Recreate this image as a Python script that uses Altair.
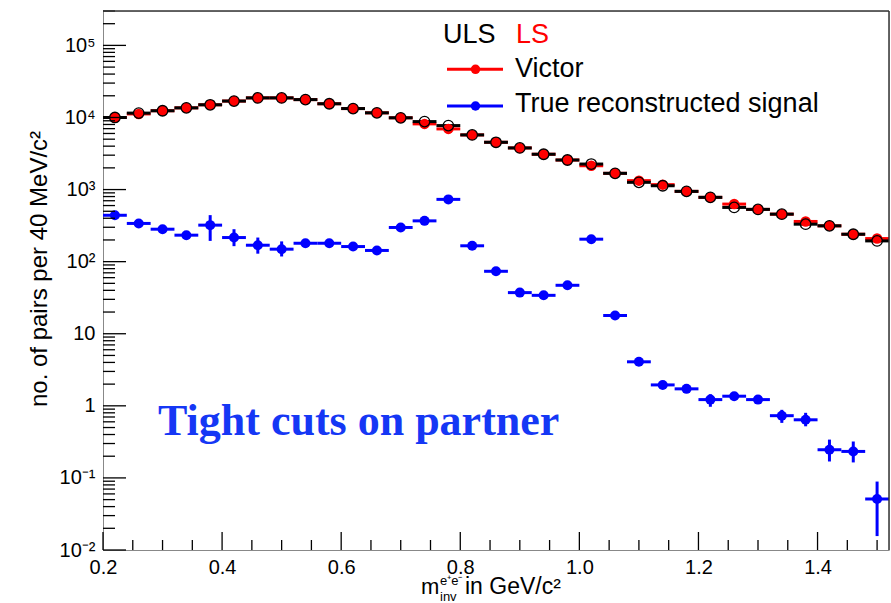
import altair as alt
import pandas as pd

# 40 MeV/c^2 bins from 0.2 to 1.52 GeV/c^2 (bin centres)
mass = [0.22, 0.26, 0.30, 0.34, 0.38, 0.42, 0.46, 0.50, 0.54, 0.58, 0.62,
        0.66, 0.70, 0.74, 0.78, 0.82, 0.86, 0.90, 0.94, 0.98, 1.02, 1.06,
        1.10, 1.14, 1.18, 1.22, 1.26, 1.30, 1.34, 1.38, 1.42, 1.46, 1.50]
bin_half = 0.02

# unlike-sign pairs (open black circles)
uls = [1.00e4, 1.15e4, 1.24e4, 1.36e4, 1.50e4, 1.69e4, 1.87e4, 1.87e4,
       1.77e4, 1.55e4, 1.33e4, 1.16e4, 9.9e3, 8.77e3, 7.72e3, 5.73e3,
       4.53e3, 3.78e3, 3.09e3, 2.57e3, 2.26e3, 1.68e3, 1.26e3, 1.13e3,
       944, 780, 565, 531, 456, 331, 314, 240, 194]
# like-sign pairs, "Victor" (red)
ls = [1.00e4, 1.12e4, 1.24e4, 1.36e4, 1.50e4, 1.69e4, 1.87e4, 1.87e4,
      1.77e4, 1.55e4, 1.33e4, 1.16e4, 9.9e3, 8.15e3, 6.94e3, 5.73e3,
      4.53e3, 3.78e3, 3.09e3, 2.57e3, 2.14e3, 1.68e3, 1.33e3, 1.17e3,
      944, 780, 629, 531, 456, 361, 314, 240, 209]
# true reconstructed signal (blue) with its error band edges
sig = [440, 339, 282, 233, 321, 216, 169, 149, 180, 180, 162, 143, 298, 368,
       731, 166, 73.5, 37.2, 34.1, 47, 205, 17.9, 4.08, 1.95, 1.72, 1.22,
       1.36, 1.22, 0.73, 0.64, 0.246, 0.233, 0.051]
sig_lo = [415, 320, 265, 218, 194, 164, 129, 118, 168, 168, 150, 133, 285,
          350, 710, 158, 69, 34.5, 31.5, 44, 198, 16.8, 3.8, 1.8, 1.55, 0.97,
          1.2, 1.1, 0.58, 0.52, 0.169, 0.164, 0.0156]
sig_hi = [465, 358, 300, 250, 442, 282, 216, 191, 193, 193, 175, 153, 312,
          386, 752, 174, 78, 40, 37, 50, 212, 19, 4.4, 2.1, 1.9, 1.45, 1.52,
          1.35, 0.88, 0.80, 0.34, 0.32, 0.089]

x_labels = [0.2, 0.4, 0.6, 0.8, 1.0, 1.2, 1.4]
y_labels = [0.01, 0.1, 1, 10, 100, 1000, 10000, 100000]

W, H = 786, 539
RED, BLUE = "#ff0000", "#0000ff"
SANS = "Liberation Sans"

df = pd.DataFrame({
    "m": mass,
    "lo": [m - bin_half for m in mass],
    "hi": [m + bin_half for m in mass],
    "uls": uls, "ls": ls, "sig": sig, "sig_lo": sig_lo, "sig_hi": sig_hi,
})

xs = alt.Scale(domain=[0.2, 1.52], nice=False, zero=False)
ys = alt.Scale(type="log", domain=[0.01, 3e5], nice=False)

x_axis = alt.Axis(values=x_labels, format=".1f", title=None, tickSize=0,
                  labelFontSize=20, labelPadding=7, labelFlush=False,
                  labelOverlap=False, grid=False)
y_label_expr = ("datum.value < 0.05 ? '10⁻²' : datum.value < 0.5 ? '10⁻¹' : "
                "datum.value < 5 ? '1' : datum.value < 50 ? '10' : "
                "datum.value < 500 ? '10²' : datum.value < 5000 ? '10³' : "
                "datum.value < 50000 ? '10⁴' : '10⁵'")
y_axis = alt.Axis(values=y_labels, labelExpr=y_label_expr, title=None,
                  tickSize=0, labelFontSize=20, labelPadding=8,
                  labelFlush=False, labelOverlap=False, grid=False)


def X(field):
    return alt.X(field, type="quantitative", scale=xs, axis=x_axis)


def Y(field):
    return alt.Y(field, type="quantitative", scale=ys, axis=y_axis)


base = alt.Chart(df)

# horizontal bin-width bars and markers
ls_bars = base.mark_rule(color=RED, strokeWidth=3).encode(
    x=X("lo"), x2="hi", y=Y("ls"))
uls_bars = base.mark_rule(color="black", strokeWidth=3).encode(
    x=X("lo"), x2="hi", y=Y("uls"))
ls_pts = base.mark_point(shape="circle", filled=True, color=RED, size=110,
                         opacity=1).encode(x=X("m"), y=Y("ls"))
uls_pts = base.mark_point(shape="circle", filled=False, color="black",
                          strokeWidth=1.3, size=110, opacity=1).encode(
    x=X("m"), y=Y("uls"))

sig_h = base.mark_rule(color=BLUE, strokeWidth=3).encode(
    x=X("lo"), x2="hi", y=Y("sig"))
sig_v = base.mark_rule(color=BLUE, strokeWidth=3).encode(
    x=X("m"), y=Y("sig_lo"), y2="sig_hi")
sig_pts = base.mark_point(shape="circle", filled=True, color=BLUE, size=100,
                          opacity=1).encode(x=X("m"), y=Y("sig"))

# inward ROOT-style tick marks
x_major = pd.DataFrame({"t": x_labels})
x_minor = pd.DataFrame({"t": [round(0.25 + 0.05 * i, 2) for i in range(26)
                              if round(0.25 + 0.05 * i, 2) not in x_labels]})
y_major = pd.DataFrame({"t": y_labels})
y_minor = pd.DataFrame({"t": [k * 10.0 ** d for d in range(-2, 6)
                              for k in range(2, 10) if k * 10.0 ** d <= 3e5]})

x_major_ticks = alt.Chart(x_major).mark_rule(color="black", strokeWidth=1.3).encode(
    x=X("t"), y=alt.value(H), y2=alt.value(H - 18))
x_minor_ticks = alt.Chart(x_minor).mark_rule(color="black", strokeWidth=1.3).encode(
    x=X("t"), y=alt.value(H), y2=alt.value(H - 10))
y_major_ticks = alt.Chart(y_major).mark_rule(color="black", strokeWidth=1.3).encode(
    y=Y("t"), x=alt.value(0), x2=alt.value(23))
y_minor_ticks = alt.Chart(y_minor).mark_rule(color="black", strokeWidth=1.3).encode(
    y=Y("t"), x=alt.value(0), x2=alt.value(12))

one = alt.Data(values=[{}])

# frame: top and right edges of the plot box
frame = (
    alt.Chart(one).mark_rule(color="#333333", strokeWidth=1.5).encode(
        x=alt.value(0), x2=alt.value(W), y=alt.value(0))
    + alt.Chart(one).mark_rule(color="#333333", strokeWidth=1.5).encode(
        x=alt.value(W), y=alt.value(0), y2=alt.value(H))
)


def label(text, x, y, size, color="black", font=SANS, weight="normal",
          angle=0, align="left"):
    return alt.Chart(one).mark_text(
        text=text, fontSize=size, color=color, font=font, fontWeight=weight,
        angle=angle, align=align, baseline="alphabetic").encode(
        x=alt.value(x), y=alt.value(y))


def legend_line(y, color):
    line = alt.Chart(one).mark_rule(color=color, strokeWidth=3).encode(
        x=alt.value(344), x2=alt.value(400), y=alt.value(y))
    dot = alt.Chart(one).mark_point(shape="circle", filled=True, color=color,
                                    size=90, opacity=1).encode(
        x=alt.value(372.5), y=alt.value(y))
    return line + dot


texts = (
    label("ULS", 340, 32, 27)
    + label("LS", 413, 32, 27, color=RED)
    + label("Victor", 412, 66, 27)
    + label("True reconstructed signal", 412, 100.5, 27)
    + label("Tight cuts on partner", 55, 424, 44, color="#1537f5",
            font="Liberation Serif", weight="bold")
    # axis titles
    + label("no. of pairs per 40 MeV/c²", -56, 258, 24, angle=270,
            align="center")
    + label("m", 318, 583, 22)
    + label("e⁺e⁻", 337, 574, 13)
    + label("inv", 337, 590, 13)
    + label("in GeV/c²", 362, 583, 23)
)

chart = alt.layer(
    ls_bars, uls_bars, ls_pts, uls_pts, sig_h, sig_v, sig_pts,
    x_major_ticks, x_minor_ticks, y_major_ticks, y_minor_ticks, frame,
    legend_line(58.3, RED), legend_line(95, BLUE), texts,
).properties(
    width=W, height=H,
    padding={"left": 103, "top": 11, "right": 2, "bottom": 53},
    autosize=alt.AutoSizeParams(type="none"),
).configure_view(
    stroke=None
).configure_axis(
    domainColor="black", domainWidth=1.6, labelFont=SANS, labelColor="black",
).configure(background="white")

chart.save("out.html", embed_options={"renderer": "svg", "actions": False})
